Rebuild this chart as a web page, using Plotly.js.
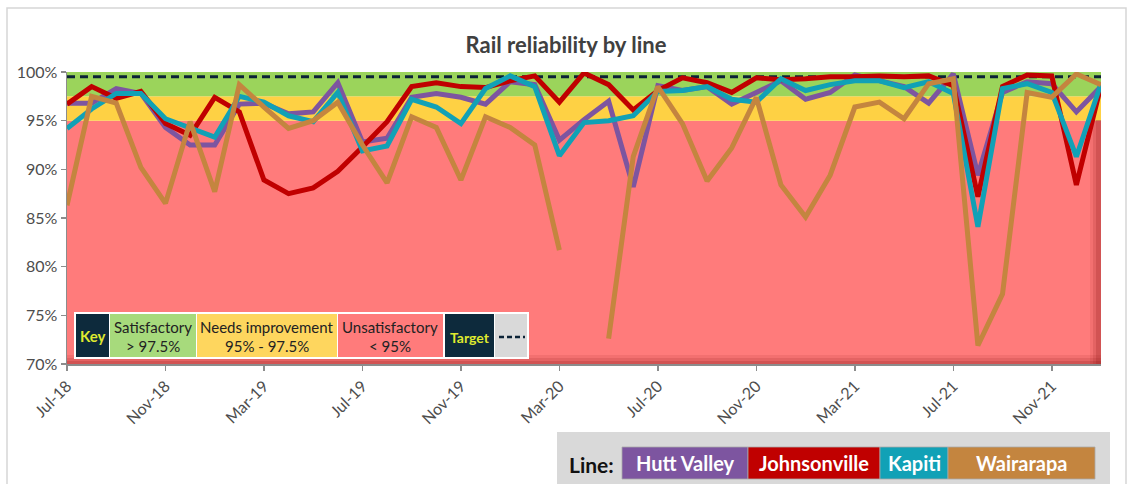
<!DOCTYPE html>
<html>
<head>
<meta charset="utf-8">
<script src="https://cdn.plot.ly/plotly-3.0.1.min.js"></script>
<style>
  html, body { margin: 0; padding: 0; background: #ffffff; }
  #chart { width: 1132px; height: 484px; }
</style>
</head>
<body>
<div id="chart"></div>
<script>
// ---------------- DATA ----------------
const months = ['Jul-18','Aug-18','Sep-18','Oct-18','Nov-18','Dec-18',
  'Jan-19','Feb-19','Mar-19','Apr-19','May-19','Jun-19','Jul-19','Aug-19','Sep-19','Oct-19','Nov-19','Dec-19',
  'Jan-20','Feb-20','Mar-20','Apr-20','May-20','Jun-20','Jul-20','Aug-20','Sep-20','Oct-20','Nov-20','Dec-20',
  'Jan-21','Feb-21','Mar-21','Apr-21','May-21','Jun-21','Jul-21','Aug-21','Sep-21','Oct-21','Nov-21','Dec-21',
  'Jan-22'];

const huttValley = [96.8, 96.8, 98.3, 97.8, 94.3, 92.5, 92.5, 96.7, 96.8, 95.7, 95.9, 98.9,
  92.8, 93.2, 97.4, 97.8, 97.4, 96.7, 99.0, 98.7, 93.0, 95.1, 97.0, 88.2,
  98.6, 98.1, 98.5, 96.7, 97.9, 99.1, 97.2, 97.9, 99.7, 99.1, 98.5, 96.8,
  99.8, 89.4, 97.9, 99.0, 98.8, 95.9, 98.5];

const johnsonville = [96.7, 98.5, 97.3, 98.0, 94.7, 93.5, 97.4, 95.9, 88.9, 87.5, 88.1, 89.8,
  92.3, 94.9, 98.5, 98.9, 98.5, 98.4, 99.1, 99.6, 96.9, 99.9, 98.7, 96.1,
  98.1, 99.4, 98.9, 97.9, 99.4, 99.2, 99.3, 99.5, 99.5, 99.6, 99.5, 99.6,
  98.6, 87.2, 98.5, 99.7, 99.6, 88.4, 98.6];

const kapiti = [94.2, 96.2, 97.8, 97.8, 95.2, 94.2, 93.3, 97.5, 96.9, 95.5, 94.9, 97.9,
  91.9, 92.4, 97.2, 96.4, 94.7, 98.3, 99.6, 98.5, 91.4, 94.8, 95.0, 95.5,
  98.0, 98.1, 98.5, 97.2, 96.9, 99.3, 98.1, 98.7, 99.1, 99.1, 98.4, 99.0,
  97.8, 84.1, 98.3, 98.8, 97.9, 91.3, 98.8];

const wairarapa = [86.3, 97.5, 96.8, 90.2, 86.5, 94.9, 87.7, 98.7, 96.4, 94.2, 95.0, 96.9,
  92.5, 88.6, 95.4, 94.3, 88.9, 95.4, 94.3, 92.5, 81.7, null, 72.6, 91.3,
  98.5, 94.7, 88.8, 92.2, 97.4, 88.4, 85.1, 89.4, 96.4, 96.9, 95.2, 98.8,
  99.3, 71.9, 77.2, 97.9, 97.4, 99.8, 98.7];

const target = 99.5;
const bandSatisfactory = [97.5, 100];
const bandNeedsImprovement = [95, 97.5];
const bandUnsatisfactory = [70, 95];

const tickMonths = ['Jul-18','Nov-18','Mar-19','Jul-19','Nov-19','Mar-20','Jul-20','Nov-20','Mar-21','Jul-21','Nov-21'];
const yTicks = [70, 75, 80, 85, 90, 95, 100];
const yTickText = ['70%','75%','80%','85%','90%','95%','100%'];

const seriesNames = ['Hutt Valley', 'Johnsonville', 'Kapiti', 'Wairarapa'];
const seriesColors = ['#7d55a0', '#c00000', '#11a1b6', '#c4853f'];
const seriesData = [huttValley, johnsonville, kapiti, wairarapa];

// ---------------- LAYOUT HELPERS ----------------
const W = 1132, H = 484;
const L = 67, R = 1101, T = 72, B = 364;
const px = x => (x - L) / (R - L);
const py = y => (B - y) / (B - T);
const FONT = 'Lato, "Open Sans", "Liberation Sans", sans-serif';

const traces = [];
traces.push({
  x: months, y: months.map(() => target), type: 'scatter', mode: 'lines',
  line: { color: '#0b2236', width: 3, dash: '8px,5px' }, hoverinfo: 'skip', showlegend: false
});
seriesData.forEach((d, k) => {
  traces.push({
    x: months, y: d, type: 'scatter', mode: 'lines', name: seriesNames[k],
    connectgaps: false,
    line: { color: seriesColors[k], width: 5, shape: 'linear' },
    showlegend: false
  });
});

const shapes = [];
const annotations = [];
// chart frame
shapes.push({ type: 'rect', xref: 'paper', yref: 'paper', x0: px(7), x1: px(1126), y0: py(8), y1: py(495),
  line: { color: '#d6d6d6', width: 1.5 }, fillcolor: 'rgba(0,0,0,0)', layer: 'below' });
// bands
[[bandUnsatisfactory, '#ff7b7b'], [bandNeedsImprovement, '#fed144'], [bandSatisfactory, '#9bd45b']].forEach(([b, c]) => {
  shapes.push({ type: 'rect', xref: 'paper', yref: 'y', x0: 0, x1: 1, y0: b[0], y1: b[1],
    fillcolor: c, line: { width: 0 }, layer: 'below' });
});
// bevel shading (bottom and right)
[[9, 0.10], [6, 0.14], [3, 0.2]].forEach(([w, a]) => {
  shapes.push({ type: 'rect', xref: 'paper', yref: 'paper', x0: 0, x1: 1, y0: 0, y1: w / (B - T),
    fillcolor: 'rgba(140,20,20,' + a + ')', line: { width: 0 }, layer: 'below' });
  shapes.push({ type: 'rect', xref: 'paper', yref: 'paper', x0: 1 - (w + 2) / (R - L), x1: 1, y0: 0, y1: py(120),
    fillcolor: 'rgba(140,20,20,' + a + ')', line: { width: 0 }, layer: 'below' });
});

// Key box (inside plot)
function box(x0, x1, y0, y1, fill, lineColor, lw) {
  shapes.push({ type: 'rect', xref: 'paper', yref: 'paper', x0: px(x0), x1: px(x1), y0: py(y1), y1: py(y0),
    fillcolor: fill, line: { color: lineColor || 'rgba(0,0,0,0)', width: lw || 0 }, layer: 'above' });
}
function text(x, y, t, size, color, bold) {
  annotations.push({ xref: 'paper', yref: 'paper', x: px(x), y: py(y), text: bold ? '<b>' + t + '</b>' : t,
    showarrow: false, xanchor: 'center', yanchor: 'middle',
    font: { family: FONT, size: size, color: color } });
}
box(74, 529, 312, 359, '#ffffff');
box(76, 109, 314, 357, '#0d2a3c');
box(110, 196, 314, 357, '#a7da7c');
box(197, 337, 314, 357, '#fed65e');
box(338, 443, 314, 357, '#ff7b7b');
box(445, 494, 314, 357, '#0d2a3c');
box(495, 527, 314, 357, '#d9d9d9');
text(92.5, 336, 'Key', 15, '#dfe92f', true);
text(153, 327, 'Satisfactory', 15, '#222222');
text(153, 346, '&gt; 97.5%', 15, '#222222');
text(267, 327, 'Needs improvement', 15, '#222222');
text(267, 346, '95% - 97.5%', 15, '#222222');
text(390, 327, 'Unsatisfactory', 15, '#222222');
text(390, 346, '&lt; 95%', 15, '#222222');
text(469.5, 337, 'Target', 14, '#dfe92f', true);
shapes.push({ type: 'line', xref: 'paper', yref: 'paper', x0: px(499), x1: px(525), y0: py(337), y1: py(337),
  line: { color: '#0b2236', width: 2.5, dash: '5px,3px' }, layer: 'above' });

// Line legend (bottom)
box(557, 1110, 432, 490, '#d9d9d9');
text(591, 464, 'Line:', 21, '#111111', true);
const legBoxes = [[622, 748], [748, 880], [880, 948], [948, 1095]];
legBoxes.forEach((b, k) => {
  box(b[0], b[1], 447, 479, seriesColors[k], '#a8a8a8', 0.8);
  text((b[0] + b[1]) / 2, 463, seriesNames[k], 20, '#ffffff', true);
});

const layout = {
  width: W, height: H,
  margin: { l: L, r: W - R, t: T, b: H - B, pad: 0 },
  paper_bgcolor: '#ffffff', plot_bgcolor: 'rgba(0,0,0,0)',
  showlegend: false,
  title: { text: '<b>Rail reliability by line</b>', x: 566 / W, xanchor: 'center', y: 1 - 45 / H, yanchor: 'middle',
    font: { family: FONT, size: 22, color: '#404040' } },
  xaxis: {
    type: 'category', range: [0, months.length - 1], tickvals: tickMonths, ticktext: tickMonths,
    tickangle: -45, ticks: 'outside', ticklen: 5, tickcolor: '#8c8c8c', tickwidth: 1.5,
    showline: true, linecolor: '#8c8c8c', linewidth: 1.5, showgrid: false, zeroline: false,
    tickfont: { family: FONT, size: 16, color: '#4d4d4d' }, fixedrange: true
  },
  yaxis: {
    range: [70, 100], tickvals: yTicks, ticktext: yTickText,
    ticks: 'outside', ticklen: 5, tickcolor: '#8c8c8c', tickwidth: 1.5,
    showline: true, linecolor: '#8c8c8c', linewidth: 1.5, showgrid: false, zeroline: false,
    tickfont: { family: FONT, size: 16, color: '#4d4d4d' }, fixedrange: true
  },
  shapes: shapes,
  annotations: annotations
};

Plotly.newPlot('chart', traces, layout, { displayModeBar: false, staticPlot: true });
</script>
</body>
</html>
